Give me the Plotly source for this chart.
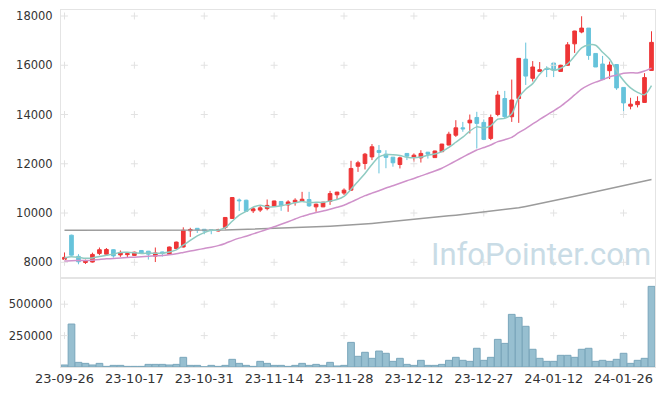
import plotly.graph_objects as go
from plotly.subplots import make_subplots
import pandas as pd

dates = [
    "23-09-26", "23-09-27", "23-10-04", "23-10-05", "23-10-06", "23-10-10", "23-10-11", "23-10-12", "23-10-13", "23-10-16",
    "23-10-17", "23-10-18", "23-10-19", "23-10-20", "23-10-23", "23-10-24", "23-10-25", "23-10-26", "23-10-27", "23-10-30",
    "23-10-31", "23-11-01", "23-11-02", "23-11-03", "23-11-06", "23-11-07", "23-11-08", "23-11-09", "23-11-10", "23-11-13",
    "23-11-14", "23-11-15", "23-11-16", "23-11-17", "23-11-20", "23-11-21", "23-11-22", "23-11-23", "23-11-24", "23-11-27",
    "23-11-28", "23-11-29", "23-11-30", "23-12-01", "23-12-04", "23-12-05", "23-12-06", "23-12-07", "23-12-08", "23-12-11",
    "23-12-12", "23-12-13", "23-12-14", "23-12-15", "23-12-18", "23-12-19", "23-12-20", "23-12-21", "23-12-22", "23-12-26",
    "23-12-27", "23-12-28", "24-01-02", "24-01-03", "24-01-04", "24-01-05", "24-01-08", "24-01-09", "24-01-10", "24-01-11",
    "24-01-12", "24-01-15", "24-01-16", "24-01-17", "24-01-18", "24-01-19", "24-01-22", "24-01-23", "24-01-24", "24-01-25",
    "24-01-26", "24-01-29", "24-01-30", "24-01-31", "24-02-01",
]

open_ = [8120, 9100, 8240, 7990, 8010, 8360, 8330, 8510, 8300, 8310,
         8280, 8480, 8450, 8250, 8420, 8330, 8560, 8620, 9280, 9380,
         9340, 9320, 9270, 9410, 9780, 10530, 10520, 10090, 10120, 10180,
         10280, 10470, 10330, 10440, 10480, 10550, 10250, 10250, 10470, 10740,
         10810, 10930, 11900, 12010, 12280, 12540, 12390, 12270, 11970, 12420,
         12260, 12240, 12470, 12250, 12490, 12760, 13160, 13460, 13660, 13880,
         13680, 13030, 14000, 14650, 13910, 14650, 16250, 15470, 15750, 15860,
         16090, 15750, 16000, 16870, 17350, 17510, 16480, 16050, 15780, 16030,
         15100, 14340, 14400, 14490, 15790]
high = [8400, 9120, 8330, 8110, 8390, 8600, 8580, 8530, 8480, 8400,
        8430, 8490, 8460, 8600, 8430, 8640, 8840, 9420, 9400, 9390,
        9340, 9320, 9360, 9830, 10640, 10590, 10540, 10250, 10290, 10550,
        10500, 10470, 10520, 10600, 10860, 10860, 10380, 10450, 10900, 10860,
        11000, 12120, 12120, 12440, 12800, 12760, 12550, 12270, 12290, 12420,
        12420, 12550, 12480, 12530, 12810, 13300, 13770, 13700, 14000, 14110,
        13800, 14000, 14960, 14960, 15420, 16290, 16920, 16170, 16130, 15960,
        16100, 16020, 16940, 17400, 17990, 17510, 16480, 16380, 16150, 16030,
        15100, 14680, 14740, 15680, 17380]
low = [8010, 8270, 7920, 7930, 7990, 8290, 8300, 8190, 8220, 8190,
       8260, 8370, 8110, 8010, 8230, 8300, 8530, 8600, 9030, 9190,
       9140, 9140, 9250, 9340, 9770, 10080, 10050, 10000, 10040, 10110,
       10270, 10090, 10050, 10300, 10450, 10250, 10050, 10240, 10330, 10560,
       10730, 10900, 11670, 11770, 12150, 11610, 11820, 11880, 11810, 12150,
       12080, 12050, 12210, 12240, 12480, 12750, 13090, 13300, 13230, 12620,
       12960, 12960, 13930, 13840, 13700, 13660, 15200, 15340, 15740, 15520,
       15520, 15740, 15980, 16500, 17300, 16220, 15930, 15420, 15440, 15000,
       14000, 14210, 14290, 14490, 15780]
close = [8200, 8290, 8020, 8050, 8320, 8510, 8520, 8260, 8400, 8350,
         8410, 8380, 8330, 8380, 8360, 8620, 8820, 9300, 9330, 9310,
         9270, 9290, 9330, 9820, 10630, 10500, 10070, 10170, 10210, 10310,
         10490, 10300, 10450, 10520, 10560, 10290, 10360, 10440, 10790, 10850,
         10930, 11810, 12040, 12390, 12690, 12460, 12260, 12040, 12240, 12310,
         12350, 12420, 12390, 12520, 12800, 13200, 13460, 13420, 13770, 13640,
         12990, 13880, 14790, 13910, 14590, 16280, 15560, 15930, 15820, 15830,
         15820, 16000, 16830, 17390, 17510, 16400, 15930, 15420, 16010, 15080,
         14470, 14420, 14530, 15500, 16930]

# closes of the 19 sessions before the first shown day (estimated from where the MA lines start)
prior_closes = [7960, 7990, 8010, 7980, 7970, 8000, 8010, 8000, 8000,
                8020, 8050, 8010, 8040, 8030, 8030, 8050, 8150, 8250, 8250]

# 120-day moving average
ma120 = [9300, 9300, 9300, 9300, 9300, 9295, 9295, 9295, 9290, 9290,
         9290, 9290, 9290, 9285, 9285, 9285, 9285, 9285, 9285, 9290,
         9295, 9300, 9305, 9312, 9320, 9328, 9336, 9345, 9355, 9365,
         9375, 9385, 9395, 9405, 9415, 9428, 9440, 9452, 9465, 9480,
         9495, 9515, 9535, 9555, 9580, 9605, 9630, 9655, 9680, 9705,
         9735, 9765, 9795, 9825, 9855, 9885, 9915, 9945, 9975, 10005,
         10035, 10065, 10095, 10125, 10160, 10210, 10265, 10320, 10380, 10440,
         10500, 10560, 10620, 10680, 10740, 10800, 10860, 10920, 10980, 11040,
         11100, 11160, 11225, 11290, 11360]

volume = [16000, 342000, 37000, 29000, 16000, 29000, 5000, 13000, 13000, 5000,
          5000, 5000, 21000, 21000, 21000, 16000, 21000, 77000, 13000, 13000,
          1500, 13000, 5000, 13000, 61000, 29000, 13000, 5000, 45000, 29000,
          13000, 13000, 5000, 13000, 29000, 13000, 21000, 13000, 37000, 8000,
          13000, 196000, 85000, 117000, 69000, 127000, 109000, 45000, 69000, 21000,
          13000, 53000, 13000, 13000, 21000, 53000, 77000, 53000, 45000, 149000,
          53000, 77000, 220000, 188000, 419000, 395000, 324000, 141000, 69000, 45000,
          45000, 93000, 93000, 77000, 141000, 149000, 45000, 53000, 45000, 61000,
          109000, 29000, 53000, 69000, 642000]

price_ticks = [8000, 10000, 12000, 14000, 16000, 18000]
volume_ticks = [250000, 500000]
x_ticks = dates[::10]

full = pd.Series(prior_closes + close)
ma5 = full.rolling(5).mean().tolist()[len(prior_closes):]
ma20 = full.rolling(20).mean().tolist()[len(prior_closes):]

RED = "#ee3536"
BLUE = "#66c3db"
FONT = "DejaVu Sans"

fig = make_subplots(rows=2, cols=1, shared_xaxes=True, vertical_spacing=0,
                    row_heights=[0.7507, 0.2493])

# grid "+" markers at tick intersections
gx = [d for d in x_ticks for _ in price_ticks]
gy = [p for _ in x_ticks for p in price_ticks]
gx2 = [d for d in x_ticks for _ in volume_ticks]
gy2 = [v for _ in x_ticks for v in volume_ticks]
cross = dict(symbol="cross-thin", size=5, line=dict(width=1, color="#e2e2e2"))

fig.add_trace(go.Scatter(x=dates, y=[None] * len(dates), mode="markers", hoverinfo="skip"), row=1, col=1)
fig.add_trace(go.Scatter(x=gx, y=gy, mode="markers", hoverinfo="skip", marker=cross), row=1, col=1)

fig.add_trace(go.Candlestick(
    x=dates, open=open_, high=high, low=low, close=close,
    increasing=dict(line=dict(color=RED, width=1), fillcolor=RED),
    decreasing=dict(line=dict(color=BLUE, width=1), fillcolor=BLUE),
    whiskerwidth=0,
), row=1, col=1)

fig.add_trace(go.Scatter(x=dates, y=ma120, mode="lines", line=dict(color="#9b9b9b", width=1.5)), row=1, col=1)
fig.add_trace(go.Scatter(x=dates, y=ma20, mode="lines", line=dict(color="#cf91ca", width=1.5, shape="spline", smoothing=0.6)), row=1, col=1)
fig.add_trace(go.Scatter(x=dates, y=ma5, mode="lines", line=dict(color="#8fcbc2", width=1.5, shape="spline", smoothing=0.8)), row=1, col=1)

fig.add_trace(go.Scatter(x=gx2, y=gy2, mode="markers", hoverinfo="skip", marker=cross), row=2, col=1)
fig.add_trace(go.Bar(x=dates, y=volume, marker=dict(color="#97bfd0", line=dict(color="#7aa6bb", width=1))),
              row=2, col=1)

axis_common = dict(showline=True, mirror=True, linecolor="#e4e4e4", linewidth=1, showgrid=False,
                   zeroline=False, automargin=False, ticklabeloverflow="allow")
yfont = dict(family=FONT, size=11.5, color="#333333")
xfont = dict(family=FONT, size=13, color="#333333")

fig.update_xaxes(type="category", categoryorder="array", categoryarray=dates,
                 range=[-0.5, 84.5], rangeslider_visible=False, tickfont=xfont, **axis_common)
fig.update_xaxes(showticklabels=False, ticks="", row=1, col=1)
fig.update_xaxes(tickmode="array", tickvals=x_ticks, ticktext=x_ticks, ticks="", tickangle=0,
                 ticklabelstandoff=-1, row=2, col=1)
fig.update_yaxes(range=[7362, 18244], tickmode="array", tickvals=price_ticks,
                 ticktext=[str(v) for v in price_ticks], ticks="", tickfont=yfont,
                 ticklabelstandoff=5, row=1, col=1, **axis_common)
fig.update_yaxes(range=[0, 708600], tickmode="array", tickvals=volume_ticks,
                 ticktext=[str(v) for v in volume_ticks], ticks="", ticklabelstandoff=5, tickfont=yfont,
                 row=2, col=1, **axis_common)

fig.add_annotation(text="InfoPointer.com", xref="paper", yref="paper", x=0.808, y=0.316,
                   xanchor="center", yanchor="middle",
                   showarrow=False, font=dict(family="Roboto", size=31, color="#c9dce6"))

# the page body adds an 8px offset, so the figure is sized to land the plot at the reference position
fig.update_layout(
    width=657, height=388,
    margin=dict(l=53, r=10, t=2, b=29),
    paper_bgcolor="white", plot_bgcolor="white",
    showlegend=False, bargap=0.04, boxgap=0.25,
    font=dict(family=FONT, size=12, color="#333333"),
)

fig.write_html("out.html")
